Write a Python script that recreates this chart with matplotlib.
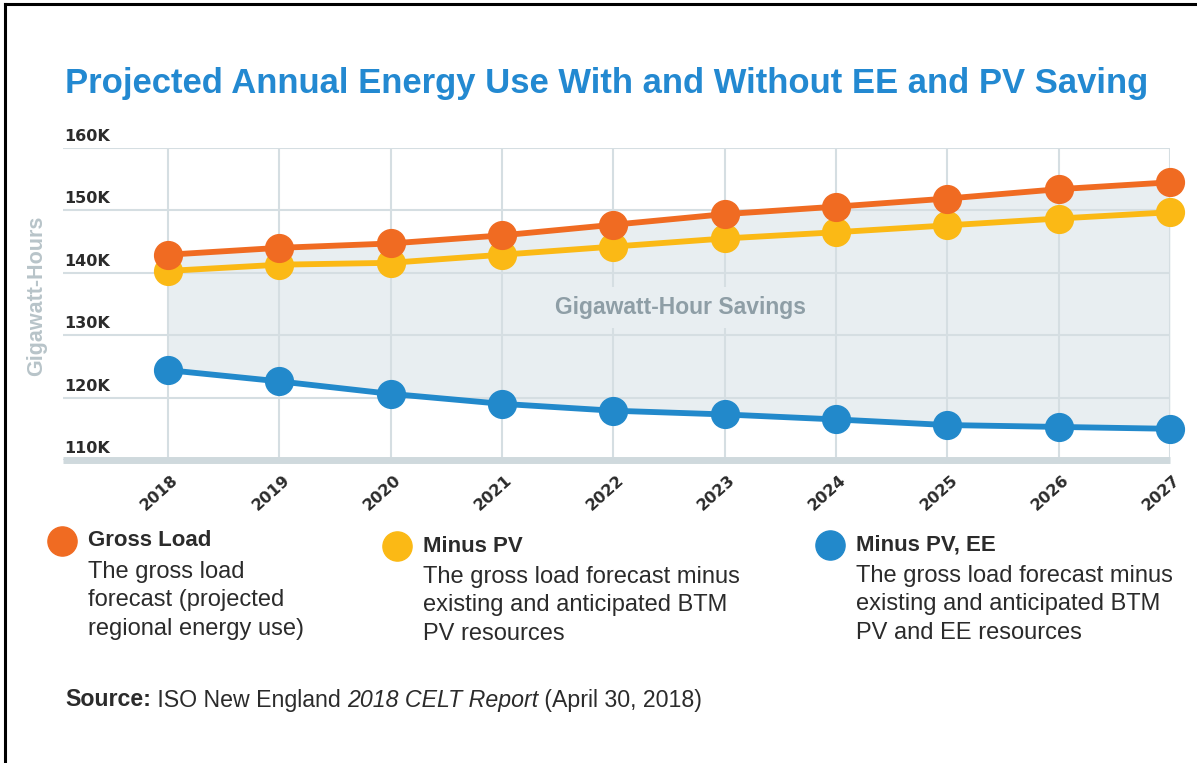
import matplotlib.pyplot as plt
from matplotlib.lines import Line2D
from matplotlib.transforms import ScaledTranslation, blended_transform_factory

plt.rcParams['font.family'] = ['Liberation Sans', 'DejaVu Sans']

# ---- data (GWh) ----
years = [2018, 2019, 2020, 2021, 2022, 2023, 2024, 2025, 2026, 2027]
gross_load = [142900, 144000, 144700, 146000, 147700, 149400, 150600, 151900, 153400, 154500]
minus_pv = [140300, 141300, 141600, 142900, 144200, 145500, 146500, 147600, 148700, 149700]
minus_pv_ee = [124400, 122600, 120600, 119000, 117900, 117300, 116500, 115600, 115300, 115000]
y_ticks = [110000, 120000, 130000, 140000, 150000, 160000]

C_GROSS = '#f06b22'
C_PV = '#fbb915'
C_EE = '#2289cb'
C_TITLE = '#2389d1'
C_GRID = '#d5dee2'
C_FILL = '#e8eef1'
C_DARK = '#2b2b2b'

W, H = 1197, 763
fig = plt.figure(figsize=(W / 100, H / 100), dpi=100)

# page frame (left and top edges)
fig.add_artist(Line2D([5 / W, 5 / W], [0, 1 - 4 / H], color='black', lw=2.2, transform=fig.transFigure))
fig.add_artist(Line2D([5 / W, 1], [1 - 4 / H, 1 - 4 / H], color='black', lw=2.2, transform=fig.transFigure))

ax = fig.add_axes([63 / W, 1 - 460 / H, (1170 - 63) / W, (460 - 148) / H])
ax.set_xlim(2018 - 105 / 111.3, 2027)
ax.set_ylim(110000, 160000)
for s in ax.spines.values():
    s.set_visible(False)

# savings band between the gross and net curves
ax.fill_between(years, gross_load, minus_pv_ee, color=C_FILL, lw=0, zorder=1)

ax.set_xticks(years)
ax.set_yticks(y_ticks)
ax.grid(True, color=C_GRID, lw=1.5, zorder=2)
ax.set_axisbelow(False)
ax.axhline(110000, color='#cfd9dd', lw=5, zorder=3, clip_on=False, solid_capstyle='butt')

ax.tick_params(length=0)
ax.set_yticklabels([])
ax.set_xticklabels([str(y) for y in years], rotation=42, ha='right', va='top',
                   rotation_mode='anchor', fontsize=11.5, fontweight='bold',
                   color=C_DARK, family='DejaVu Sans')
ax.tick_params(axis='x', pad=9)
for lbl in ax.get_xticklabels():
    lbl.set_transform(lbl.get_transform() + ScaledTranslation(3 / 100, 0, fig.dpi_scale_trans))

# y labels sit on top of their gridlines
ytrans = blended_transform_factory(ax.transAxes, ax.transData)
for v in y_ticks:
    ax.text(0.001, v, f'{v // 1000}K', transform=ytrans + ScaledTranslation(0, 4 / 100, fig.dpi_scale_trans),
            ha='left', va='bottom', fontsize=11.5, fontweight='bold', color=C_DARK,
            family='DejaVu Sans', zorder=5)

# series
for vals, col in [(minus_pv_ee, C_EE), (minus_pv, C_PV), (gross_load, C_GROSS)]:
    ax.plot(years, vals, color=col, lw=4.2, marker='o', ms=20, mec=col,
            zorder=6, clip_on=False)

ax.text(2022.6, 134400, 'Gigawatt-Hour Savings', ha='center', va='center',
        fontsize=16.5, fontweight='bold', color='#8e9ea6', zorder=4,
        bbox=dict(boxstyle='square,pad=0.4', fc=C_FILL, ec='none'))

fig.text(37 / W, 1 - 296 / H, 'Gigawatt-Hours', rotation=90, ha='center', va='center',
         fontsize=15.5, fontweight='bold', color='#b8c4c9')

fig.text(65 / W, 1 - 84 / H, 'Projected Annual Energy Use With and Without EE and PV Saving',
         ha='left', va='center', fontsize=24.9, fontweight='bold', color=C_TITLE)

# legend block
legend_items = [
    ('Gross Load', 'The gross load\nforecast (projected\nregional energy use)', C_GROSS, 62, 541),
    ('Minus PV', 'The gross load forecast minus\nexisting and anticipated BTM\nPV resources', C_PV, 397, 546),
    ('Minus PV, EE', 'The gross load forecast minus\nexisting and anticipated BTM\nPV and EE resources', C_EE, 830, 545),
]
for name, desc, col, cx, cy in legend_items:
    fig.add_artist(Line2D([cx / W], [1 - cy / H], marker='o', ms=21, color=col,
                          mec=col, lw=0, transform=fig.transFigure))
    fig.text((cx + 26) / W, 1 - cy / H, name, ha='left', va='center',
             fontsize=16, fontweight='bold', color=C_DARK)
    fig.text((cx + 26) / W, 1 - (cy + 20) / H, desc, ha='left', va='top',
             fontsize=17, color=C_DARK, linespacing=1.38)

# source line with mixed styles
fig.canvas.draw()
renderer = fig.canvas.get_renderer()
x = 65
parts = [('Source:', 'bold', 'normal'), (' ISO New England ', 'normal', 'normal'),
         ('2018 CELT Report', 'normal', 'italic'), (' (April 30, 2018)', 'normal', 'normal')]
for txt, wt, st in parts:
    t = fig.text(x / W, 1 - 700 / H, txt, ha='left', va='center', fontsize=16.7,
                 fontweight=wt, style=st, color=C_DARK)
    x += t.get_window_extent(renderer).width

fig.savefig('out.png', dpi=100)
